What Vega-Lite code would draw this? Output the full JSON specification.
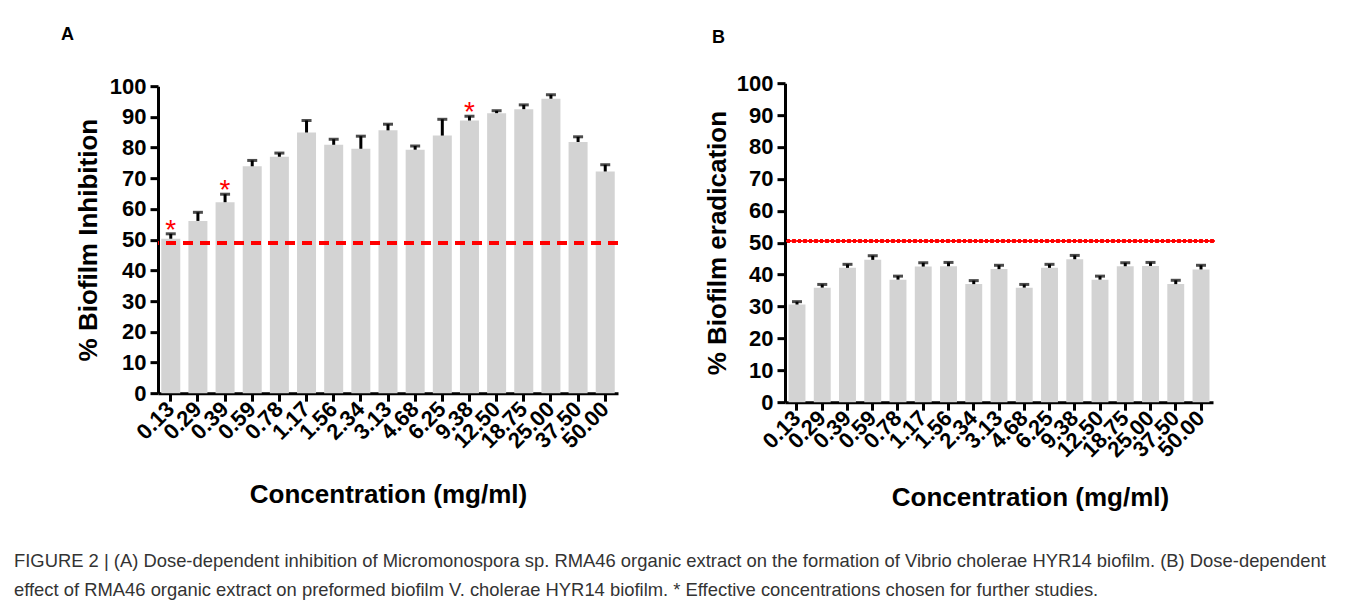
{
  "$schema": "https://vega.github.io/schema/vega-lite/v6.json",
  "background": "white",
  "padding": {"left": 14, "top": 26, "right": 5, "bottom": 0},
  "datasets": {
    "A": [
      {"conc": "0.13", "value": 50.3, "upper": 51.9, "star": true},
      {"conc": "0.29", "value": 56.1, "upper": 58.9, "star": false},
      {"conc": "0.39", "value": 62.2, "upper": 64.8, "star": true},
      {"conc": "0.59", "value": 73.9, "upper": 75.8, "star": false},
      {"conc": "0.78", "value": 77.0, "upper": 78.2, "star": false},
      {"conc": "1.17", "value": 84.9, "upper": 88.8, "star": false},
      {"conc": "1.56", "value": 80.9, "upper": 82.7, "star": false},
      {"conc": "2.34", "value": 79.6, "upper": 83.7, "star": false},
      {"conc": "3.13", "value": 85.6, "upper": 87.6, "star": false},
      {"conc": "4.68", "value": 79.3, "upper": 80.5, "star": false},
      {"conc": "6.25", "value": 83.9, "upper": 89.2, "star": false},
      {"conc": "9.38", "value": 88.8, "upper": 90.2, "star": true},
      {"conc": "12.50", "value": 91.2, "upper": 92.0, "star": false},
      {"conc": "18.75", "value": 92.5, "upper": 93.9, "star": false},
      {"conc": "25.00", "value": 95.9, "upper": 97.2, "star": false},
      {"conc": "37.50", "value": 81.8, "upper": 83.5, "star": false},
      {"conc": "50.00", "value": 72.2, "upper": 74.4, "star": false}
    ],
    "B": [
      {"conc": "0.13", "value": 30.6, "upper": 31.5},
      {"conc": "0.29", "value": 35.9, "upper": 36.9},
      {"conc": "0.39", "value": 42.1, "upper": 43.2},
      {"conc": "0.59", "value": 44.6, "upper": 45.9},
      {"conc": "0.78", "value": 38.4, "upper": 39.5},
      {"conc": "1.17", "value": 42.5, "upper": 43.7},
      {"conc": "1.56", "value": 42.6, "upper": 43.8},
      {"conc": "2.34", "value": 37.0, "upper": 38.1},
      {"conc": "3.13", "value": 41.7, "upper": 42.9},
      {"conc": "4.68", "value": 35.9, "upper": 36.9},
      {"conc": "6.25", "value": 42.1, "upper": 43.2},
      {"conc": "9.38", "value": 44.8, "upper": 46.0},
      {"conc": "12.50", "value": 38.4, "upper": 39.5},
      {"conc": "18.75", "value": 42.6, "upper": 43.7},
      {"conc": "25.00", "value": 42.7, "upper": 43.8},
      {"conc": "37.50", "value": 37.0, "upper": 38.2},
      {"conc": "50.00", "value": 41.6, "upper": 42.9}
    ]
  },
  "title": {
    "text": [
      "FIGURE 2 | (A) Dose-dependent inhibition of Micromonospora sp. RMA46 organic extract on the formation of Vibrio cholerae HYR14 biofilm. (B) Dose-dependent",
      "effect of RMA46 organic extract on preformed biofilm V. cholerae HYR14 biofilm. * Effective concentrations chosen for further studies."
    ],
    "orient": "bottom",
    "anchor": "start",
    "font": "Liberation Sans",
    "fontSize": 18.4,
    "fontWeight": "normal",
    "color": "#333333",
    "lineHeight": 29,
    "offset": 41,
    "dx": -47
  },
  "spacing": 84,
  "center": true,
  "hconcat": [
    {
      "title": {"text": "A", "anchor": "start", "frame": "group", "dx": -97, "offset": 31},
      "width": 460,
      "height": 307,
      "data": {"name": "A"},
      "encoding": {
        "x": {
          "field": "conc", "type": "nominal", "sort": null,
          "scale": {"paddingInner": 0.3, "paddingOuter": 0.12},
          "axis": {"title": "Concentration (mg/ml)", "labelAngle": -45, "labelAlign": "right", "labelBaseline": "middle", "titlePadding": 30}
        }
      },
      "layer": [
        {
          "mark": {"type": "bar", "color": "#d3d3d3"},
          "encoding": {
            "y": {"field": "value", "type": "quantitative", "scale": {"domain": [0, 100]},
                  "axis": {"title": "% Biofilm Inhibition", "values": [0,10,20,30,40,50,60,70,80,90,100], "titlePadding": 8}}
          }
        },
        {
          "mark": {"type": "rule", "color": "black", "strokeWidth": 3},
          "encoding": {"y": {"field": "value", "type": "quantitative",
                  "axis": {"title": "% Biofilm Inhibition", "values": [0,10,20,30,40,50,60,70,80,90,100], "titlePadding": 8}}, "y2": {"field": "upper"}}
        },
        {
          "mark": {"type": "tick", "color": "black", "thickness": 3, "size": 10},
          "encoding": {"y": {"field": "upper", "type": "quantitative",
                  "axis": {"title": "% Biofilm Inhibition", "values": [0,10,20,30,40,50,60,70,80,90,100], "titlePadding": 8}}}
        },
        {
          "transform": [{"filter": "datum.star"}],
          "mark": {"type": "text", "text": "*", "color": "#ff0000", "fontSize": 28, "font": "Liberation Sans", "baseline": "alphabetic", "dy": 5},
          "encoding": {"y": {"field": "upper", "type": "quantitative",
                  "axis": {"title": "% Biofilm Inhibition", "values": [0,10,20,30,40,50,60,70,80,90,100], "titlePadding": 8}}}
        },
        {
          "mark": {"type": "rule", "color": "#ff0000", "strokeWidth": 3, "strokeDash": [10, 7]},
          "encoding": {"y": {"datum": 49,
                  "axis": {"title": "% Biofilm Inhibition", "values": [0,10,20,30,40,50,60,70,80,90,100], "titlePadding": 8}}, "x": null}
        }
      ]
    },
    {
      "title": {"text": "B", "anchor": "start", "frame": "group", "dx": -73, "offset": 25},
      "width": 428,
      "height": 319,
      "data": {"name": "B"},
      "encoding": {
        "x": {
          "field": "conc", "type": "nominal", "sort": null,
          "scale": {"paddingInner": 0.33, "paddingOuter": 0.14},
          "axis": {"title": "Concentration (mg/ml)", "labelAngle": -45, "labelAlign": "right", "labelBaseline": "middle", "titlePadding": 24, "titleX": 245}
        }
      },
      "layer": [
        {
          "mark": {"type": "bar", "color": "#d3d3d3"},
          "encoding": {
            "y": {"field": "value", "type": "quantitative", "scale": {"domain": [0, 100]},
                  "axis": {"title": "% Biofilm eradication", "values": [0,10,20,30,40,50,60,70,80,90,100], "titlePadding": 6}}
          }
        },
        {
          "mark": {"type": "rule", "color": "black", "strokeWidth": 3},
          "encoding": {"y": {"field": "value", "type": "quantitative",
                  "axis": {"title": "% Biofilm eradication", "values": [0,10,20,30,40,50,60,70,80,90,100], "titlePadding": 6}}, "y2": {"field": "upper"}}
        },
        {
          "mark": {"type": "tick", "color": "black", "thickness": 3, "size": 10},
          "encoding": {"y": {"field": "upper", "type": "quantitative",
                  "axis": {"title": "% Biofilm eradication", "values": [0,10,20,30,40,50,60,70,80,90,100], "titlePadding": 6}}}
        },
        {
          "mark": {"type": "rule", "color": "#ff0000", "strokeWidth": 2.5, "strokeDash": [2, 3.5], "strokeCap": "round"},
          "encoding": {"y": {"datum": 50.5,
                  "axis": {"title": "% Biofilm eradication", "values": [0,10,20,30,40,50,60,70,80,90,100], "titlePadding": 6}}, "x": null}
        }
      ]
    }
  ],
  "config": {
    "view": {"stroke": null},
    "title": {"font": "Liberation Sans", "fontSize": 18, "fontWeight": "bold", "color": "black"},
    "axis": {
      "grid": false,
      "labelOverlap": false,
      "domainColor": "black", "domainWidth": 3,
      "tickColor": "black", "tickWidth": 3, "tickSize": 8,
      "labelFont": "Liberation Sans", "labelFontWeight": "bold", "labelFontSize": 22, "labelColor": "black", "labelPadding": 4,
      "titleFont": "Liberation Sans", "titleFontWeight": "bold", "titleFontSize": 26, "titleColor": "black"
    }
  }
}
